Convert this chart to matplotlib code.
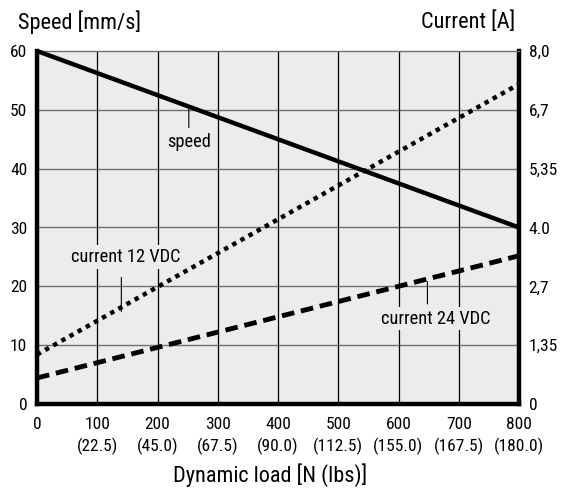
import matplotlib
matplotlib.use('Agg')
import matplotlib.pyplot as plt

plt.rcParams['font.family'] = ['Roboto Condensed', 'DejaVu Sans']

load_n = [0, 800]
speed = [60, 30]            # mm/s
cur_12 = [1.12, 7.25]       # A
cur_24 = [0.59, 3.36]       # A

xticks = [0, 100, 200, 300, 400, 500, 600, 700, 800]
xlabels = ['0', '100\n(22.5)', '200\n(45.0)', '300\n(67.5)', '400\n(90.0)',
           '500\n(112.5)', '600\n(155.0)', '700\n(167.5)', '800\n(180.0)']
speed_ticks = [0, 10, 20, 30, 40, 50, 60]
cur_labels = ['0', '1,35', '2,7', '4.0', '5,35', '6,7', '8,0']

bg = '#ececec'
fs = 12.5
fig = plt.figure(figsize=(5.63, 4.9), dpi=100)
ax = fig.add_axes([37 / 563, 86 / 490, 482 / 563, 353 / 490])
ax.set_facecolor(bg)
ax.set_xlim(0, 800)
ax.set_ylim(0, 60)
ax.set_xticks(xticks)
ax.set_xticklabels(xlabels, fontsize=fs, linespacing=1.5)
ax.set_yticks(speed_ticks)
ax.set_yticklabels([str(v) for v in speed_ticks], fontsize=fs)
ax.tick_params(axis='y', length=0, pad=7)
ax.tick_params(axis='x', length=0, pad=9)
for v in speed_ticks[1:-1]:
    ax.axhline(v, color='#707070', lw=1, zorder=1)
for v in xticks[1:-1]:
    ax.axvline(v, color='black', lw=0.9, zorder=1)
for s in ['left', 'right', 'bottom']:
    ax.spines[s].set_linewidth(3.2)
ax.spines['top'].set_linewidth(1)
ax.spines['top'].set_color('#707070')

ax2 = ax.twinx()
ax2.set_ylim(0, 8)
ax2.set_yticks([v * 8 / 60 for v in speed_ticks])
ax2.set_yticklabels(cur_labels, fontsize=fs)
ax2.tick_params(length=0, pad=7)
for s in ax2.spines.values():
    s.set_visible(False)

ax.plot(load_n, speed, color='black', lw=3.2, solid_capstyle='butt', zorder=5, clip_on=False)
ax2.plot(load_n, cur_12, color='black', lw=3.2, linestyle=(0, (1, 1.1)), zorder=5)
ax2.plot(load_n, cur_24, color='black', lw=3.5, linestyle=(0, (2.6, 1.4)), zorder=5)

# labels with leader lines
box = dict(facecolor=bg, edgecolor='none', pad=2)
lead = dict(arrowstyle='-', color='black', lw=0.8, shrinkA=0, shrinkB=0)
afs = 13.2
ax.annotate('', xy=(252, 50.1), xytext=(252, 47.0), arrowprops=lead, zorder=6)
ax.text(252, 44.6, 'speed', ha='center', va='center', fontsize=afs, bbox=box, zorder=6)
ax.annotate('', xy=(140, 15.7), xytext=(140, 21.5), arrowprops=lead, zorder=6)
ax.text(147, 25.0, 'current 12 VDC', ha='center', va='center', fontsize=afs, bbox=box, zorder=6)
ax.annotate('', xy=(648, 20.8), xytext=(648, 17.0), arrowprops=lead, zorder=6)
ax.text(662, 14.5, 'current 24 VDC', ha='center', va='center', fontsize=afs, bbox=box, zorder=6)

fig.text(18 / 563, 0.955, 'Speed [mm/s]', fontsize=16, va='center', ha='left')
fig.text(515 / 563, 0.955, 'Current [A]', fontsize=16, va='center', ha='right')
fig.text(270 / 563, 0.03, 'Dynamic load [N (lbs)]', fontsize=16, va='center', ha='center')

fig.savefig('out.png', dpi=100)
